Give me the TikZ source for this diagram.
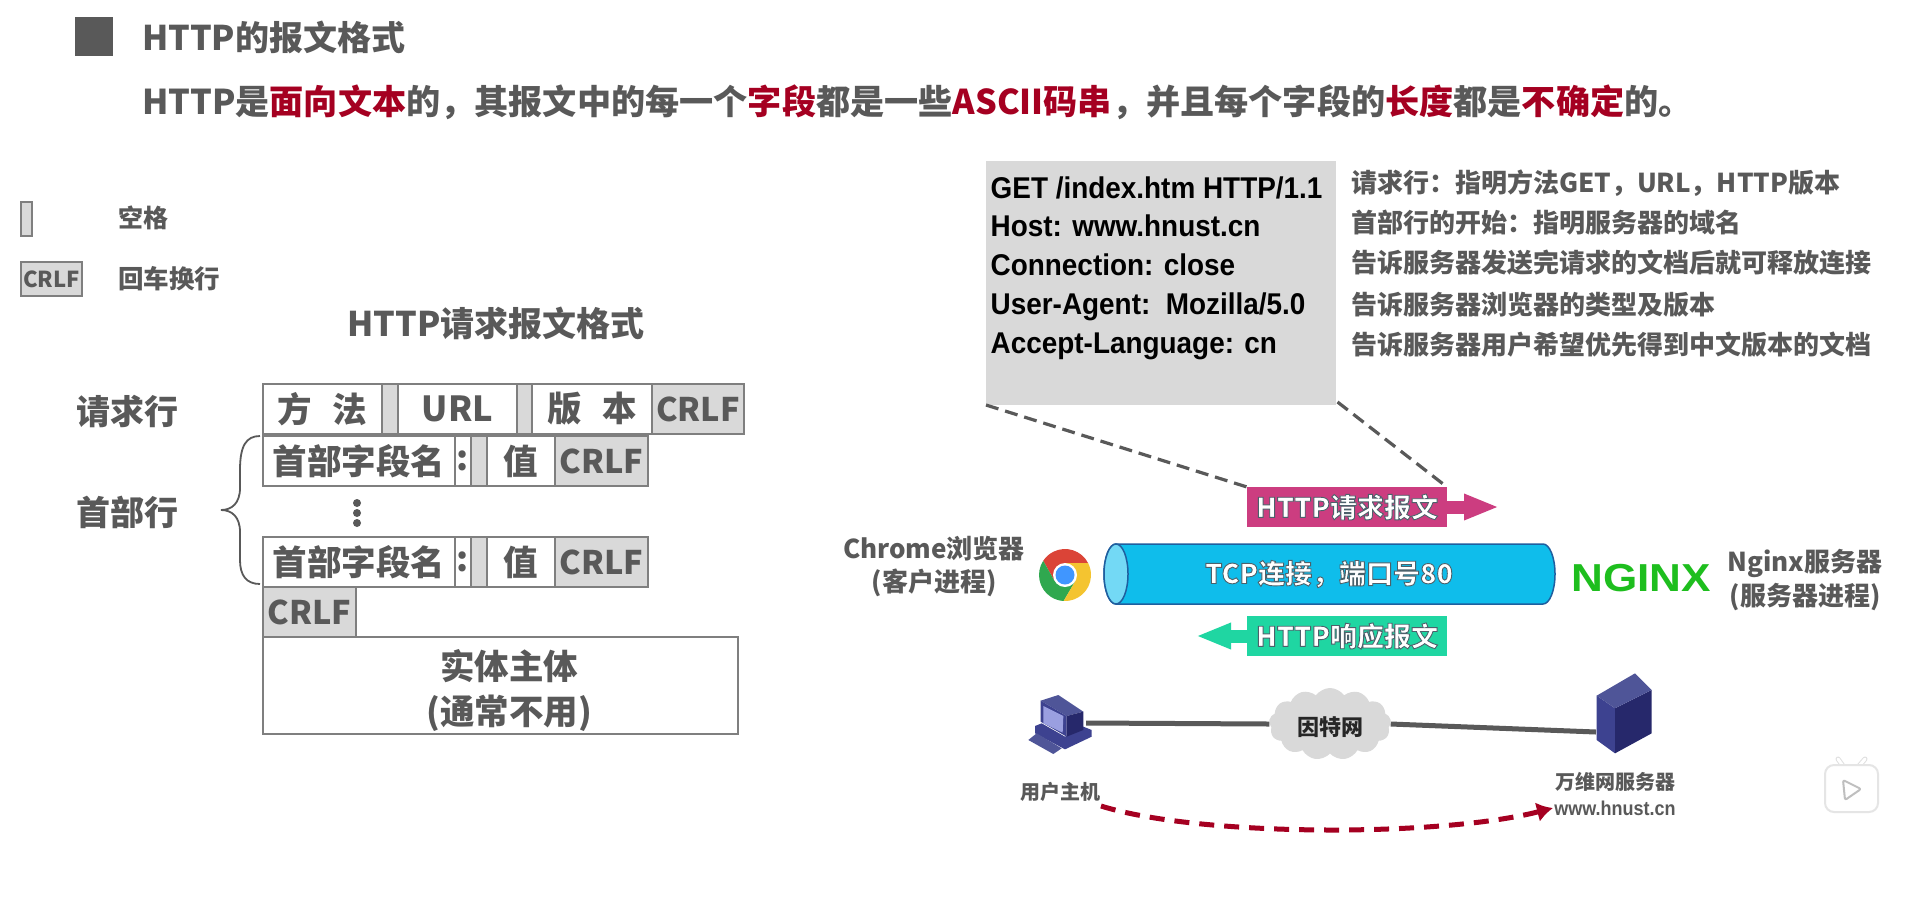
\documentclass[tikz,border=0pt]{standalone}
\usepackage{fontspec}
\setmainfont{Noto Sans CJK SC}
\newfontfamily\arialfont{Liberation Sans}
\usetikzlibrary{shapes.geometric, shapes.symbols, arrows.meta}
\definecolor{txtgray}{HTML}{595959}
\definecolor{keyred}{HTML}{A50021}
\definecolor{boxgray}{HTML}{D9D9D9}
\definecolor{edgegray}{HTML}{7F7F7F}
\definecolor{pinkmsg}{HTML}{CC3D80}
\definecolor{greenmsg}{HTML}{1FD6A2}
\definecolor{pipeblue}{HTML}{0FBDEB}
\definecolor{pipeend}{HTML}{73D9F5}
\definecolor{pipeedge}{HTML}{1F5F9F}
\definecolor{pcfront}{HTML}{3D4290}
\definecolor{pctop}{HTML}{4F5598}
\definecolor{pcside}{HTML}{26286B}
\definecolor{pcscreen}{HTML}{9A9FE0}
\newcommand{\fsz}[1]{\bfseries\fontsize{#1}{#1}\selectfont}
\newcommand{\hl}[1]{\textcolor{keyred}{#1}}
\newcommand{\stroked}[1]{\special{pdf:literal direct 2 Tr 0.9 w 0.3 0.38 0.42 RG}#1\special{pdf:literal direct 0 Tr}}
\tikzset{
  txt/.style={inner sep=0, outer sep=0, text=txtgray},
  fieldbox/.style={draw=edgegray, line width=1.6, anchor=north west, inner sep=0, outer sep=0, text=txtgray, font=\fsz{34.5}},
  gapbox/.style={fieldbox, fill=boxgray, font=\fsz{32.5}},
  msgbox/.style={anchor=north west, inner sep=0, outer sep=0, minimum width=200, minimum height=40, text=white, font=\fsz{27}},
  dashline/.style={txtgray, line width=3.2, dash pattern=on 13pt off 7pt},
}
\begin{document}
\begin{tikzpicture}[x=1pt,y=-1pt]
\useasboundingbox (0,0) rectangle (1918,903);
\fill[white] (0,0) rectangle (1918,903);

% 标题
\fill[txtgray] (75,17) rectangle (113,56);
\node[txt, anchor=west, font=\fsz{34}] (title) at (142,37) {HTTP的报文格式};
\node[txt, anchor=west, font=\fsz{34.15}] (subtitle) at (142,102) {HTTP是\hl{面向文本}的，其报文中的每一个\hl{字段}都是一些\hl{ASCII码串}，并且每个字段的\hl{长度}都是\hl{不确定}的。};

% 图例
\node[gapbox, minimum width=11, minimum height=34] (legspace) at (21,202) {};
\node[txt, anchor=west, font=\fsz{25}] (legspacetxt) at (118,218) {空格};
\node[gapbox, minimum width=61, minimum height=34, font=\fsz{22}] (legcrlf) at (21,262) {CRLF};
\node[txt, anchor=west, font=\fsz{25.5}] (legcrlftxt) at (118,279) {回车换行};

% 请求报文格式
\node[txt, font=\fsz{34}] (fmttitle) at (496,323) {HTTP请求报文格式};
\node[txt, anchor=west, font=\fsz{34}] (reqline) at (76,411) {请求行};
\node[txt, anchor=west, font=\fsz{34}] (headline) at (76,512) {首部行};

\node[fieldbox, minimum width=119, minimum height=50] (method) at (263,384) {方\hspace{0.6em}法};
\node[gapbox, minimum width=16, minimum height=50] (sp1) at (382,384) {};
\node[fieldbox, minimum width=119, minimum height=50] (url) at (398,384) {URL};
\node[gapbox, minimum width=15, minimum height=50] (sp2) at (517,384) {};
\node[fieldbox, minimum width=120, minimum height=50] (version) at (532,384) {版\hspace{0.6em}本};
\node[gapbox, minimum width=92, minimum height=50] (crlf1) at (652,384) {CRLF};

% 首部行
\foreach \rowname/\rowy in {a/436, b/537} {
  \node[fieldbox, minimum width=192, minimum height=50] (name\rowname) at (263,\rowy) {首部字段名};
  \node[fieldbox, minimum width=16, minimum height=50] (colon\rowname) at (455,\rowy) {:};
  \node[gapbox, minimum width=16, minimum height=50] (sp\rowname) at (471,\rowy) {};
  \node[fieldbox, minimum width=68, minimum height=50] (val\rowname) at (487,\rowy) {值};
  \node[gapbox, minimum width=93, minimum height=50] (crlf\rowname) at (555,\rowy) {CRLF};
}
\foreach \doty in {503,513,523} {
  \fill[txtgray] (357,\doty) circle (4);
}
\draw[txtgray, line width=1.8] (260,436) .. controls (246,436) and (240,446) .. (240,470) -- (240,488)
  .. controls (240,503) and (232,510) .. (221,510) .. controls (232,510) and (240,517) .. (240,532) -- (240,560)
  .. controls (240,575) and (246,584) .. (260,584);

\node[gapbox, minimum width=93, minimum height=50] (crlf2) at (263,587) {CRLF};
\node[fieldbox, minimum width=475, minimum height=97] (body) at (263,637) {};
\node[txt, align=center, font=\fsz{34.5}] (bodytxt) at (509,690) {实体主体\\[10.5pt](通常不用)};

% 报文内容
\node[fill=boxgray, anchor=north west, inner sep=0, outer sep=0, minimum width=350, minimum height=244] (msg) at (986,161) {};
\foreach \n/\ly/\s in {1/198/{GET /index.htm HTTP/1.1}, 2/236/{Host: www.hnust.cn}, 3/275/{Connection: close}, 4/314/{User-Agent:~~Mozilla/5.0}, 5/353/{Accept-Language: cn}} {
  \node[anchor=base west, inner sep=0, font={\arialfont\bfseries\fontsize{30}{30}\selectfont}, xscale=0.93] (line\n) at (990.5,\ly) {\s};
}
\foreach \n/\ly/\s in {1/183/请求行：指明方法GET，URL，HTTP版本, 2/223/首部行的开始：指明服务器的域名, 3/263/告诉服务器发送完请求的文档后就可释放连接, 4/305/告诉服务器浏览器的类型及版本, 5/345/告诉服务器用户希望优先得到中文版本的文档} {
  \node[txt, anchor=west, font=\fsz{26}] (note\n) at (1351,\ly) {\s};
}

% 报文箭头
\node[msgbox, fill=pinkmsg] (reqmsg) at (1247,487) {\stroked{HTTP请求报文}};
\coordinate (reqtip) at (1499,507);
\draw[pinkmsg, line width=13, -{Triangle[length=35pt, width=24pt]}] (reqmsg.east) -- (reqtip);
\node[msgbox, fill=greenmsg] (respmsg) at (1247,616) {\stroked{HTTP响应报文}};
\coordinate (resptip) at (1196,636);
\draw[greenmsg, line width=13, -{Triangle[length=35pt, width=24pt]}] (respmsg.west) -- (resptip);

\coordinate (msgcorner) at (1337.5,402);
\draw[dashline] (msg.south west) -- (reqmsg.north west);
\draw[dashline] (msgcorner) -- (reqmsg.north east);

% TCP连接
\draw[pipeedge, fill=pipeblue, line width=1.5] (1116,544) -- (1543,544) arc[start angle=-90, end angle=90, x radius=12, y radius=30] -- (1116,604) arc[start angle=90, end angle=270, x radius=12, y radius=30] -- cycle;
\draw[pipeedge, fill=pipeend, line width=1.5] (1116,574) ellipse (12 and 30);
\node[inner sep=0, text=white, font=\fsz{27}] (pipetxt) at (1329,574) {\stroked{TCP连接，端口号80}};

% Chrome
\begin{scope}[shift={(1065,575)}, x=1pt, y=1pt]
  \foreach \ang/\col in {0/DB4437, 120/2FA84F, 240/F4C430} {
    \definecolor{sector}{HTML}{\col}
    \fill[sector, rotate=\ang] (27:26) arc (27:147:26) -- (210:12) -- (90:12) -- cycle;
  }
  \fill[white] (0,0) circle (12);
  \fill[blue!55!cyan!75!white] (0,0) circle (9.5);
\end{scope}
\node[txt, font=\fsz{26}] (chrome) at (934,549) {Chrome浏览器};
\node[txt, font=\fsz{26}] (client) at (934,583) {(客户进程)};

% Nginx
\node[inner sep=0, text={rgb,255:red,30;green,190;blue,30}, font={\arialfont\bfseries\fontsize{39}{39}\selectfont}, xscale=1.13] (nginx) at (1641,578) {NGINX};
\node[txt, font=\fsz{26}] (nginxname) at (1805,563) {Nginx服务器};
\node[txt, font=\fsz{26}] (server) at (1805,597) {(服务器进程)};

% 网络
\coordinate (hostpc) at (1086,723);
\coordinate (webserver) at (1596,732);
\node[cloud, cloud puffs=13, cloud puff arc=110, fill=boxgray, aspect=1.7, inner sep=0, minimum width=122, minimum height=72] (net) at (1330,724) {};
\node[inner sep=0, text=black!85, font=\fsz{22}] (nettxt) at (1330,727) {因特网};
\draw[txtgray, line width=5] (hostpc) -- (net.west);
\draw[txtgray, line width=5] (net.east) -- (webserver);

% 用户主机
\begin{scope}[shift={(1010,680)}, x=0.3333pt, y=-0.3333pt]
  \fill[pcfront] (75,138) -- (95,130) -- (165,170) -- (220,140) -- (245,150) -- (245,170) -- (165,208) -- (75,160) -- cycle;
  \fill[pctop] (55,180) -- (80,160) -- (155,205) -- (130,222) -- cycle;
  \fill[pctop] (92,62) -- (145,45) -- (220,95) -- (170,108) -- cycle;
  \fill[pcfront] (92,62) -- (170,108) -- (170,170) -- (92,125) -- cycle;
  \fill[pcside] (170,108) -- (220,95) -- (220,150) -- (170,170) -- cycle;
  \fill[pcscreen] (100,78) -- (160,108) -- (158,158) -- (100,130) -- cycle;
\end{scope}

% 服务器
\begin{scope}[shift={(1580,665)}, x=0.3333pt, y=-0.3333pt]
  \fill[pcfront] (50,92) -- (105,130) -- (105,265) -- (50,225) -- cycle;
  \fill[pcside] (105,130) -- (215,75) -- (215,205) -- (105,265) -- cycle;
  \fill[pctop] (50,92) -- (165,25) -- (215,75) -- (105,130) -- cycle;
\end{scope}

\node[txt, font=\fsz{20}] (hostname) at (1060,792) {用户主机};
\node[txt, font=\fsz{20}] (servername) at (1615,782) {万维网服务器};
\node[txt, font={\arialfont\bfseries\fontsize{20}{20}\selectfont}, xscale=0.9] (serverurl) at (1615,808) {www.hnust.cn};

\coordinate (flowstart) at (1101,806);
\coordinate (flowend) at (1553,808);
\draw[keyred, line width=5, dash pattern=on 15pt off 10pt, -{Latex[length=16pt, width=20pt]}] (flowstart) .. controls (1200,837) and (1440,837) .. (flowend);

% 播放图标
\draw[black!12, line width=5, line cap=round] (1843,766) -- (1838,759) (1859,766) -- (1865,759);
\draw[white, line width=3, line cap=round] (1843,766) -- (1838,759) (1859,766) -- (1865,759);
\draw[black!10, line width=2, fill=white, rounded corners=9] (1825,765) rectangle (1878,812);
\draw[black!25, line width=2, rounded corners=2, line join=round] (1843,780) -- (1861,789) -- (1845,800) -- cycle;
\end{tikzpicture}
\end{document}
